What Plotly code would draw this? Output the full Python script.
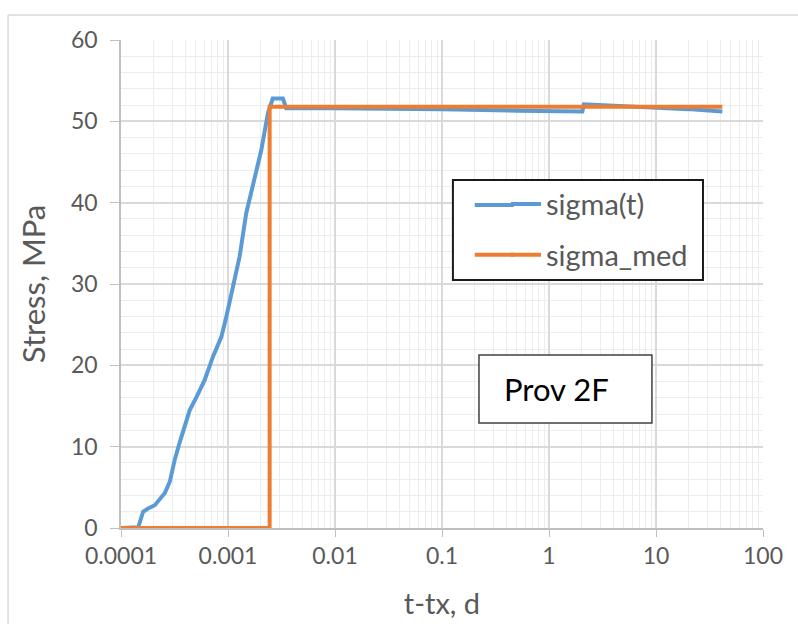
import plotly.graph_objects as go

# ---- data ----
sigma_t_time = [1.0e-4, 1.45e-4, 1.61e-4, 1.79e-4, 2.07e-4, 2.31e-4, 2.57e-4, 2.86e-4,
                3.18e-4, 3.55e-4, 3.95e-4, 4.39e-4, 5.07e-4, 6.06e-4, 7.25e-4, 8.67e-4,
                9.66e-4, 1.114e-3, 1.285e-3, 1.48e-3, 1.71e-3, 2.05e-3, 2.36e-3, 2.54e-3,
                2.62e-3, 3.26e-3, 3.50e-3, 0.01, 0.1, 0.5, 2.05, 2.12, 5.0, 10.0, 20.0, 41.7]
sigma_t_val = [0.0, 0.1, 2.0, 2.4, 2.8, 3.5, 4.3, 5.7,
               8.4, 10.6, 12.5, 14.5, 16.1, 18.2, 21.1, 23.5,
               26.0, 29.7, 33.4, 38.7, 42.4, 46.5, 51.0, 52.6,
               52.8, 52.8, 51.6, 51.6, 51.5, 51.3, 51.2, 52.1, 51.9, 51.7, 51.5, 51.2]

sigma_med_time = [1.0e-4, 2.45e-3, 2.45e-3, 41.7]
sigma_med_val = [0.0, 0.0, 51.8, 51.8]

x_tickvals = [0.0001, 0.001, 0.01, 0.1, 1, 10, 100]
x_ticktext = ["0.0001", "0.001", "0.01", "0.1", "1", "10", "100"]

FONT = "Lato"
GRAY = "#595959"
BLUE = "#5B9BD5"
ORANGE = "#ED7D31"

fig = go.Figure()
fig.add_trace(go.Scatter(x=sigma_t_time, y=sigma_t_val, mode="lines", name="sigma(t)",
                         legendgroup="g1", line=dict(color=BLUE, width=4)))
fig.add_trace(go.Scatter(x=sigma_med_time, y=sigma_med_val, mode="lines", name="sigma_med",
                         legendgroup="g2", line=dict(color=ORANGE, width=4)))

fig.update_layout(
    width=798, height=624,
    margin=dict(l=121, r=35, t=40, b=96),
    paper_bgcolor="white", plot_bgcolor="white",
    font=dict(family=FONT, color=GRAY),
    showlegend=True,
    legend=dict(x=0.5997, y=0.716, xanchor="left", yanchor="top",
                bgcolor="rgba(0,0,0,0)", borderwidth=0,
                font=dict(size=29, color=GRAY, family=FONT),
                tracegroupgap=10, traceorder="grouped"),
)

fig.update_xaxes(
    type="log", range=[-4, 2],
    tickvals=x_tickvals, ticktext=x_ticktext,
    tickfont=dict(size=23, color=GRAY),
    ticks="outside", ticklen=7, tickcolor="#BFBFBF",
    showline=True, linecolor="#BFBFBF", linewidth=1.5,
    showgrid=True, gridcolor="#D9D9D9", gridwidth=1.5,
    minor=dict(dtick="D1", showgrid=True, gridcolor="#EDEDED", gridwidth=1.3),
    title=dict(text="t-tx, d", font=dict(size=29, color=GRAY), standoff=25),
    automargin=False,
    zeroline=False,
)
fig.update_yaxes(
    range=[0, 60], dtick=10,
    tickfont=dict(size=23, color=GRAY),
    ticks="outside", ticklen=9, tickcolor="#BFBFBF",
    showline=True, linecolor="#BFBFBF", linewidth=1.5,
    showgrid=True, gridcolor="#D9D9D9", gridwidth=1.5,
    minor=dict(dtick=2, showgrid=True, gridcolor="#EDEDED", gridwidth=1.3),
    title=dict(text="Stress, MPa", font=dict(size=31, color=GRAY), standoff=16),
    ticklabelstandoff=8,
    automargin=False,
    zeroline=False,
)

# outer chart frame (left and top edges visible)
fig.add_shape(type="line", xref="paper", yref="paper", x0=-0.176, x1=-0.176, y0=-0.3, y1=1.051,
              line=dict(color="#D9D9D9", width=1.5), layer="below")
fig.add_shape(type="line", xref="paper", yref="paper", x0=-0.176, x1=1.2, y0=1.051, y1=1.051,
              line=dict(color="#D9D9D9", width=1.5), layer="below")

# legend box
fig.add_shape(type="rect", xref="paper", yref="paper", x0=0.517, x1=0.9065, y0=0.508, y1=0.713,
              line=dict(color="#1A1A1A", width=2), fillcolor="white", layer="above")
# extend legend line samples to the reference's longer length
fig.add_shape(type="line", xref="paper", yref="paper", x0=0.551, x1=0.612, y0=0.662, y1=0.662,
              line=dict(color=BLUE, width=4), layer="above")
fig.add_shape(type="line", xref="paper", yref="paper", x0=0.551, x1=0.612, y0=0.560, y1=0.560,
              line=dict(color=ORANGE, width=4), layer="above")

# text box
fig.add_shape(type="rect", xref="paper", yref="paper", x0=0.5576, x1=0.827, y0=0.215, y1=0.3545,
              line=dict(color="#404040", width=1.5), fillcolor="white", layer="above")
fig.add_annotation(xref="paper", yref="paper", x=0.679, y=0.285, text="Prov 2F", showarrow=False,
                   font=dict(size=31, color="black", family=FONT), xanchor="center", yanchor="middle")

fig.write_html("out.html")
